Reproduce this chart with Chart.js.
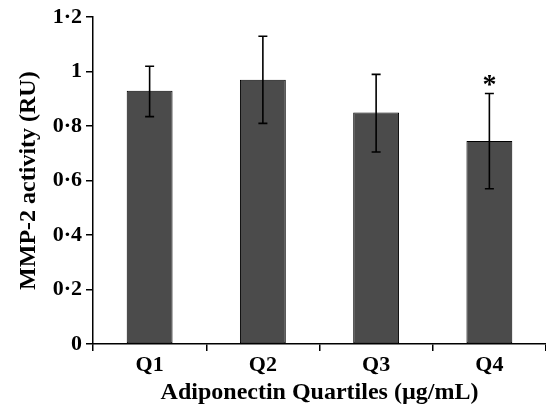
<!DOCTYPE html>
<html>
<head>
<meta charset="utf-8">
<title>MMP-2 activity by adiponectin quartile</title>
<script src="https://cdn.jsdelivr.net/npm/chart.js@4/dist/chart.umd.min.js"></script>
<style>
    html, body { margin: 0; padding: 0; background: #fff; }
    #wrap { width: 546px; height: 411px; }
</style>
</head>
<body>
<div id="wrap"><canvas id="mmpChart"></canvas></div>
<script>
// Data
const quartiles = ['Q1', 'Q2', 'Q3', 'Q4'];
const mmpActivity = [0.93, 0.97, 0.85, 0.745];
const errLow = [0.835, 0.81, 0.705, 0.57];
const errHigh = [1.02, 1.13, 0.99, 0.92];
const significant = [false, false, false, true];
const yTicks = [0, 0.2, 0.4, 0.6, 0.8, 1, 1.2];

const serif = '"Liberation Serif", "DejaVu Serif", serif';

// British-style decimal point (1·2)
function formatTick(value) {
    if (value === 0 || value === 1) return String(value);
    return value.toFixed(1).replace('.', '\u00b7');
}

// Draws the SD error bars and the significance star
const errorBarPlugin = {
    id: 'errorBars',
    afterDatasetsDraw(chart) {
        const ctx = chart.ctx;
        const meta = chart.getDatasetMeta(0);
        const yScale = chart.scales.y;
        ctx.save();
        ctx.strokeStyle = '#000';
        ctx.lineWidth = 1.6;
        meta.data.forEach((bar, i) => {
            const x = bar.x;
            const yTop = yScale.getPixelForValue(errHigh[i]);
            const yBot = yScale.getPixelForValue(errLow[i]);
            const cap = 4.5;
            ctx.beginPath();
            ctx.moveTo(x, yTop);
            ctx.lineTo(x, yBot);
            ctx.moveTo(x - cap, yTop);
            ctx.lineTo(x + cap, yTop);
            ctx.moveTo(x - cap, yBot);
            ctx.lineTo(x + cap, yBot);
            ctx.stroke();

            if (significant[i]) {
                ctx.fillStyle = '#000';
                ctx.font = 'bold 28px ' + serif;
                ctx.textAlign = 'center';
                ctx.textBaseline = 'bottom';
                ctx.fillText('*', x, yTop + 6);
            }
        });
        ctx.restore();
    }
};

const ctx = document.getElementById('mmpChart').getContext('2d');
const chart = new Chart(ctx, {
    type: 'bar',
    data: {
        labels: quartiles,
        datasets: [{
            data: mmpActivity,
            backgroundColor: '#4b4b4b',
            borderColor: '#000',
            borderWidth: 1,
            borderSkipped: false,
            categoryPercentage: 1,
            barPercentage: 0.405
        }]
    },
    options: {
        responsive: true,
        maintainAspectRatio: false,
        animation: false,
        layout: {
            padding: { top: 16, right: 0, bottom: 0, left: 0 }
        },
        plugins: {
            legend: { display: false },
            tooltip: { enabled: false }
        },
        scales: {
            x: {
                offset: true,
                border: { display: true, color: '#000', width: 1.5 },
                grid: {
                    offset: true,
                    drawOnChartArea: false,
                    drawTicks: true,
                    tickLength: 7,
                    color: '#000',
                    lineWidth: 1.5
                },
                ticks: {
                    color: '#000',
                    padding: 1,
                    font: { family: serif, size: 22, weight: 'bold' }
                },
                title: {
                    display: true,
                    text: 'Adiponectin Quartiles (\u00b5g/mL)',
                    color: '#000',
                    padding: { top: 0, bottom: 4 },
                    font: { family: serif, size: 24, weight: 'bold' }
                },
                afterFit(scale) { scale.height = 67; }
            },
            y: {
                min: 0,
                max: 1.2,
                afterBuildTicks(scale) {
                    scale.ticks = yTicks.map(v => ({ value: v }));
                },
                border: { display: true, color: '#000', width: 1.5 },
                grid: {
                    drawOnChartArea: false,
                    drawTicks: true,
                    tickLength: 7,
                    color: '#000',
                    lineWidth: 1.5
                },
                ticks: {
                    color: '#000',
                    padding: 4,
                    callback: (value) => formatTick(value),
                    font: { family: serif, size: 22, weight: 'bold' }
                },
                title: {
                    display: true,
                    text: 'MMP-2 activity (RU)',
                    color: '#000',
                    padding: { top: 14, bottom: 0 },
                    font: { family: serif, size: 24, weight: 'bold' }
                },
                afterFit(scale) { scale.width = 93; }
            }
        }
    },
    plugins: [errorBarPlugin]
});
</script>
</body>
</html>
